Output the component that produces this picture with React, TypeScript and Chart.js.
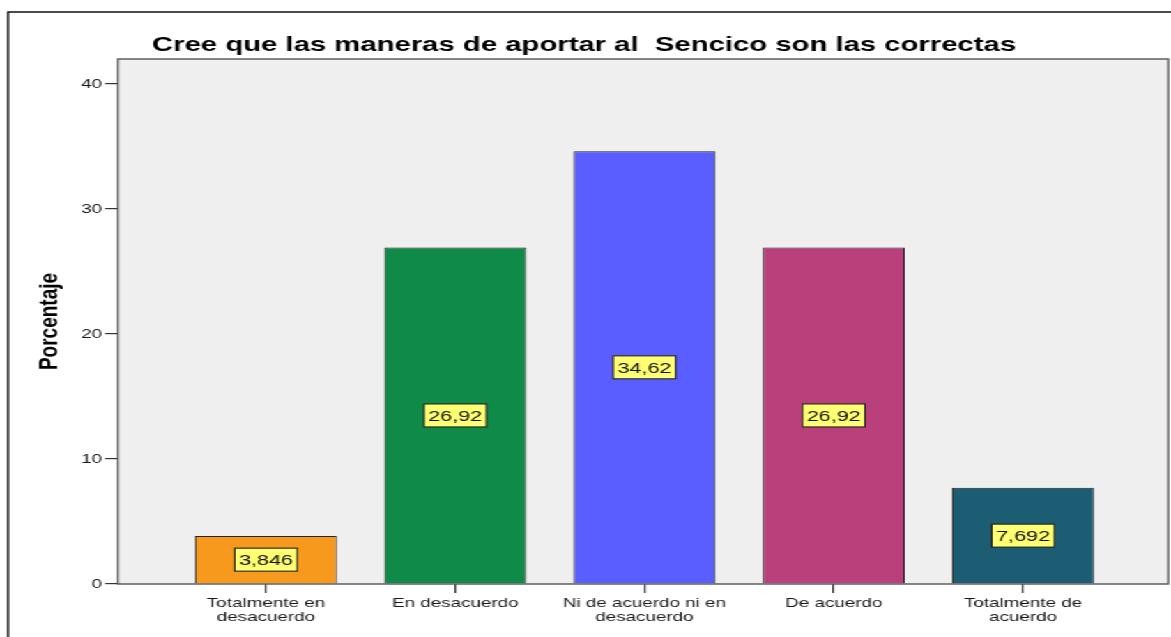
import React, { useEffect, useRef } from "react";
import { Chart, registerables } from "chart.js";

Chart.register(...registerables);

const TITLE = "Cree que las maneras de aportar al  Sencico son las correctas";
const Y_TITLE = "Porcentaje";
const CATEGORIES: string[][] = [
  ["Totalmente en", "desacuerdo"],
  ["En desacuerdo"],
  ["Ni de acuerdo ni en", "desacuerdo"],
  ["De acuerdo"],
  ["Totalmente de", "acuerdo"],
];
const VALUES: number[] = [3.846, 26.92, 34.62, 26.92, 7.692];
const COLORS: string[] = ["#F7991D", "#0F8A49", "#5B5EFE", "#B9407B", "#1C5D73"];
const Y_TICKS: number[] = [0, 10, 20, 30, 40];

const W = 840;
const H = 637;
const SX = 1171 / W;
const FONT = "'Liberation Sans', Arial, sans-serif";

const fmt = (v: number) => String(v).replace(".", ",");

const framePlugin = {
  id: "spssFrame",
  beforeDraw(chart: any) {
    const { ctx, chartArea: a } = chart;
    ctx.save();
    ctx.strokeStyle = "#000";
    ctx.lineWidth = 1.4;
    ctx.strokeRect(5.8, 12, W + 20, H + 20);
    ctx.fillStyle = "#EFEFEF";
    ctx.fillRect(a.left, a.top, a.right - a.left, a.bottom - a.top);
    ctx.restore();
  },
  afterDatasetsDraw(chart: any) {
    const { ctx, chartArea: a } = chart;
    ctx.save();
    ctx.strokeStyle = "#555";
    ctx.lineWidth = 1.4;
    ctx.strokeRect(a.left, a.top, a.right - a.left, a.bottom - a.top);
    const meta = chart.getDatasetMeta(0);
    ctx.font = `15.5px ${FONT}`;
    ctx.textAlign = "center";
    ctx.textBaseline = "middle";
    meta.data.forEach((bar: any, i: number) => {
      const txt = fmt(VALUES[i]);
      const cy = (bar.y + bar.base) / 2;
      const tw = ctx.measureText(txt).width;
      const bw = tw + 6;
      const bh = 23;
      ctx.fillStyle = "#FFFF72";
      ctx.fillRect(bar.x - bw / 2, cy - bh / 2, bw, bh);
      ctx.strokeStyle = "#222";
      ctx.lineWidth = 1.1;
      ctx.strokeRect(bar.x - bw / 2, cy - bh / 2, bw, bh);
      ctx.fillStyle = "#111";
      ctx.fillText(txt, bar.x, cy + 1);
    });
    ctx.restore();
  },
};

export default function App() {
  const ref = useRef<HTMLCanvasElement | null>(null);

  useEffect(() => {
    if (!ref.current) return;
    const chart = new Chart(ref.current, {
      type: "bar",
      data: {
        datasets: [
          {
            data: VALUES.map((v, i) => ({ x: i, y: v })),
            backgroundColor: COLORS,
            borderColor: "#222",
            borderWidth: 1,
            barPercentage: 0.75,
            categoryPercentage: 1,
          },
        ],
      },
      options: {
        animation: false,
        responsive: false,
        devicePixelRatio: 1,
        layout: { padding: { left: 0, right: 2, top: 0, bottom: 0 } },
        plugins: {
          legend: { display: false },
          tooltip: { enabled: false },
          title: {
            display: true,
            text: TITLE,
            color: "#000",
            font: { family: FONT, size: 21, weight: "bold", lineHeight: 1.2 },
            padding: { top: 32.4, bottom: 1.4 },
          },
        },
        scales: {
          x: {
            type: "linear",
            min: -0.782,
            max: 4.767,
            offset: false,
            border: { display: false },
            grid: {
              offset: false,
              drawOnChartArea: false,
              drawTicks: true,
              tickLength: 9,
              color: "#333",
              lineWidth: 1.2,
            },
            afterBuildTicks: (scale: any) => {
              scale.ticks = CATEGORIES.map((_, i) => ({ value: i }));
            },
            afterFit: (scale: any) => {
              scale.height = H - 584;
            },
            ticks: {
              autoSkip: false,
              maxRotation: 0,
              minRotation: 0,
              padding: 3,
              color: "#1a1a1a",
              font: { family: FONT, size: 13.5, lineHeight: 1.05 },
              callback: (v: any) => CATEGORIES[Math.round(Number(v))] ?? "",
            },
          },
          y: {
            type: "linear",
            min: 0,
            max: 42,
            border: { display: false },
            grid: {
              drawOnChartArea: false,
              drawTicks: true,
              tickLength: 9.3,
              color: "#333",
              lineWidth: 1.2,
            },
            afterBuildTicks: (scale: any) => {
              scale.ticks = Y_TICKS.map((v) => ({ value: v }));
            },
            afterFit: (scale: any) => {
              scale.width = 84.6;
            },
            ticks: {
              padding: 2,
              color: "#1a1a1a",
              font: { family: FONT, size: 13.5 },
              callback: (v: any) => String(v),
            },
            title: {
              display: true,
              text: Y_TITLE,
              color: "#000",
              font: { family: FONT, size: 19, weight: "bold", lineHeight: 1.2 },
              padding: { top: 24.6, bottom: 0 },
            },
          },
        },
      },
      plugins: [framePlugin],
    } as any);
    return () => chart.destroy();
  }, []);

  return (
    <div
      style={{
        position: "fixed",
        left: 0,
        top: 0,
        width: W,
        height: H,
        transform: `scaleX(${SX})`,
        transformOrigin: "0 0",
        background: "#fff",
      }}
    >
      <canvas ref={ref} width={W} height={H} />
    </div>
  );
}
